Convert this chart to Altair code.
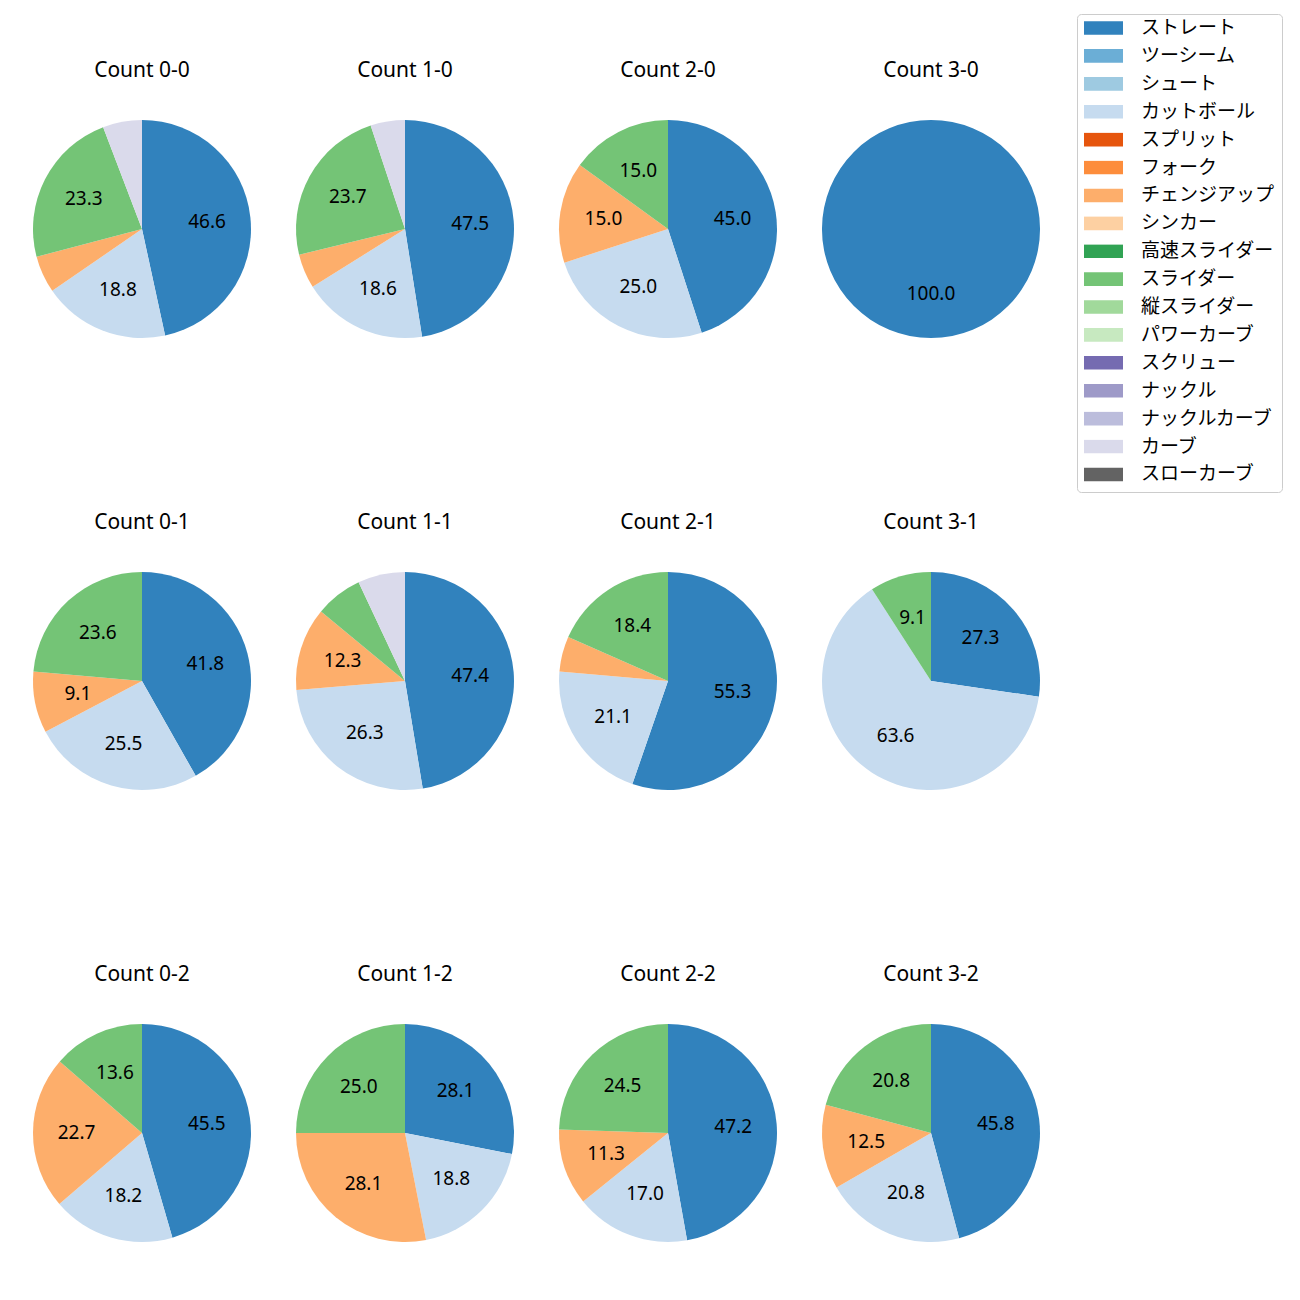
import altair as alt
import pandas as pd

pitch_types = ["ストレート", "ツーシーム", "シュート", "カットボール", "スプリット", "フォーク",
               "チェンジアップ", "シンカー", "高速スライダー", "スライダー", "縦スライダー",
               "パワーカーブ", "スクリュー", "ナックル", "ナックルカーブ", "カーブ", "スローカーブ"]
pitch_colors = ["#3182bd", "#6baed6", "#9ecae1", "#c6dbef", "#e6550d", "#fd8d3c",
                "#fdae6b", "#fdd0a2", "#31a354", "#74c476", "#a1d99b", "#c7e9c0",
                "#756bb1", "#9e9ac8", "#bcbddc", "#dadaeb", "#636363"]

counts = ["Count 0-0", "Count 1-0", "Count 2-0", "Count 3-0",
          "Count 0-1", "Count 1-1", "Count 2-1", "Count 3-1",
          "Count 0-2", "Count 1-2", "Count 2-2", "Count 3-2"]

straight = [46.6, 47.5, 45.0, 100.0, 41.8, 47.4, 55.3, 27.3, 45.5, 28.1, 47.2, 45.8]
cutter   = [18.8, 18.6, 25.0, 0.0, 25.5, 26.3, 21.1, 63.6, 18.2, 18.8, 17.0, 20.8]
changeup = [5.5, 5.1, 15.0, 0.0, 9.1, 12.3, 5.2, 0.0, 22.7, 28.1, 11.3, 12.5]
slider   = [23.3, 23.7, 15.0, 0.0, 23.6, 7.0, 18.4, 9.1, 13.6, 25.0, 24.5, 20.8]
curve    = [5.8, 5.1, 0.0, 0.0, 0.0, 7.0, 0.0, 0.0, 0.0, 0.0, 0.0, 0.0]

series = {"ストレート": straight, "カットボール": cutter, "チェンジアップ": changeup,
          "スライダー": slider, "カーブ": curve}

rows = []
for ci, c in enumerate(counts):
    for name, vals in series.items():
        v = vals[ci]
        if v > 0:
            rows.append({"count": c, "pitch": name, "order": pitch_types.index(name),
                         "pct": v, "label": f"{v:.1f}" if v >= 8 else ""})
df = pd.DataFrame(rows)

FONT = "Noto Sans CJK JP"
LATIN = "Noto Sans"

base = alt.Chart().encode(
    theta=alt.Theta("pct:Q", stack="normalize"),
    order=alt.Order("order:Q", sort="ascending"),
)

arcs = base.mark_arc(strokeWidth=0).encode(
    color=alt.Color(
        "pitch:N",
        scale=alt.Scale(domain=pitch_types, range=pitch_colors),
        sort=pitch_types,
        legend=alt.Legend(
            title=None,
            orient="none",
            legendX=1044,
            legendY=-106,
            symbolType="M-1,-0.35H1V0.35H-1Z",
            symbolSize=1521,
            symbolStrokeWidth=0,
            clipHeight=14,
            rowPadding=8.9,
            labelOffset=18,
            labelFontSize=19,
            labelFont=FONT,
            labelColor="#000000",
            strokeColor="#cccccc",
            fillColor="#ffffff",
            cornerRadius=4,
            padding=7,
            labelLimit=300,
        ),
    )
)

text = base.mark_text(radius=65.4, fontSize=19, font=LATIN, color="#000000").encode(
    text="label:N"
)

chart = alt.layer(arcs, text, data=df).properties(width=218, height=218).facet(
    facet=alt.Facet("count:N", sort=counts,
                    header=alt.Header(title=None, labelFontSize=21, labelFont=LATIN,
                                      labelColor="#000000", labelPadding=39)),
    columns=4,
    spacing={"row": 174, "column": 45},
).properties(
    padding={"left": 25, "top": 5, "right": 5, "bottom": 5}
).configure_view(stroke=None)

chart.save("out.html", embed_options={"renderer": "svg", "actions": False})
